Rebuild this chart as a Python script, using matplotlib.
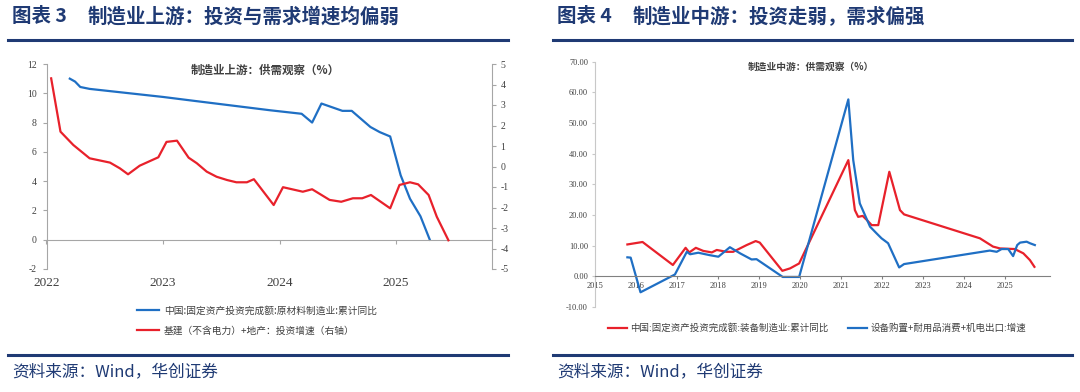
import matplotlib.pyplot as plt
from matplotlib.lines import Line2D
from matplotlib.ticker import FormatStrFormatter

plt.rcParams['font.family'] = ['Noto Sans CJK SC', 'DejaVu Sans']
plt.rcParams['axes.unicode_minus'] = False

# ---- 图表3：制造业上游 ----
# 原材料制造业投资累计同比（左轴）
up_inv_x = [2022.20, 2022.245, 2022.29, 2022.37, 2023.0, 2023.23, 2023.92, 2024.19, 2024.28,
            2024.36, 2024.54, 2024.62, 2024.78, 2024.86, 2024.95, 2025.04, 2025.12, 2025.21, 2025.29]
up_inv_y = [11.0, 10.8, 10.43, 10.3, 9.75, 9.52, 8.84, 8.6, 8.0,
            9.3, 8.8, 8.8, 7.7, 7.35, 7.05, 4.4, 2.8, 1.6, 0.0]
# 基建（不含电力）+地产投资增速（右轴）
up_dem_x = [2022.04, 2022.12, 2022.23, 2022.37, 2022.545, 2022.63, 2022.70, 2022.80, 2022.96,
            2023.03, 2023.12, 2023.22, 2023.29, 2023.375, 2023.46, 2023.55, 2023.63, 2023.72,
            2023.78, 2023.95, 2024.03, 2024.20, 2024.28, 2024.43, 2024.53, 2024.63, 2024.71,
            2024.785, 2024.95, 2025.03, 2025.12, 2025.19, 2025.28, 2025.35, 2025.45]
up_dem_y = [4.30, 1.70, 1.05, 0.40, 0.19, -0.09, -0.38, 0.04, 0.45,
            1.20, 1.26, 0.43, 0.16, -0.25, -0.5, -0.66, -0.77, -0.77,
            -0.62, -1.88, -1.01, -1.23, -1.11, -1.63, -1.72, -1.55, -1.55,
            -1.39, -2.04, -0.90, -0.77, -0.87, -1.39, -2.45, -3.60]
up_years = [2022, 2023, 2024, 2025]

# ---- 图表4：制造业中游 ----
mid_inv_x = [2015.79, 2016.16, 2016.90, 2017.21, 2017.30, 2017.46, 2017.64, 2017.85, 2017.97,
             2018.21, 2018.37, 2018.70, 2018.92, 2019.02, 2019.57, 2019.76, 2019.98, 2021.18,
             2021.34, 2021.42, 2021.53, 2021.63, 2021.75, 2021.91, 2022.18, 2022.44, 2022.54,
             2024.39, 2024.71, 2024.88, 2025.24, 2025.45, 2025.61, 2025.72]
mid_inv_y = [10.4, 11.2, 3.7, 9.3, 7.8, 9.3, 8.3, 7.8, 8.6,
             8.0, 8.0, 10.2, 11.5, 11.0, 1.8, 2.6, 4.2, 37.9,
             21.6, 19.4, 19.7, 18.4, 16.7, 16.7, 34.1, 21.6, 20.2,
             12.4, 9.7, 9.1, 8.9, 7.5, 5.3, 3.1]
mid_dem_x = [2015.79, 2015.87, 2016.11, 2016.95, 2017.24, 2017.32, 2017.52, 2017.80, 2018.01,
             2018.29, 2018.54, 2018.82, 2018.94, 2019.58, 2019.98, 2021.18, 2021.30, 2021.46,
             2021.71, 2021.87, 2021.99, 2022.15, 2022.42, 2022.54, 2024.63, 2024.80, 2024.92,
             2025.08, 2025.20, 2025.30, 2025.37, 2025.53, 2025.61, 2025.73]
mid_dem_y = [6.2, 6.1, -5.2, 0.6, 8.0, 7.2, 7.7, 6.9, 6.4,
             9.5, 7.5, 5.5, 5.6, -0.2, -0.2, 57.7, 37.9, 23.8,
             16.2, 14.0, 12.4, 10.8, 2.9, 4.0, 8.4, 8.0, 8.9,
             8.9, 6.6, 10.2, 11.0, 11.3, 10.8, 10.2]
mid_years = list(range(2015, 2026))

BLUE = '#1F6FC4'
RED = '#E8212B'
NAVY = '#1F3A74'
GRAY = '#A6A6A6'
TXT = '#404040'
W, H = 1080, 392

fig = plt.figure(figsize=(10.8, 3.92), dpi=100)

def fx(px):
    return px / W

def fy(py):
    return 1 - py / H

# 标题与分隔线
for x0, x1, num, title in [(8, 508, "图表 3", "制造业上游：投资与需求增速均偏弱"),
                           (553, 1072, "图表 4", "制造业中游：投资走弱，需求偏强")]:
    fig.text(fx(x0 + 4), fy(17), num, color=NAVY, fontsize=14, fontweight='bold', va='center')
    fig.text(fx(x0 + 80), fy(17), title, color=NAVY, fontsize=14, fontweight='bold', va='center')
    fig.add_artist(Line2D([fx(x0), fx(x1)], [fy(40), fy(40)], color=NAVY, lw=2.2))
    fig.add_artist(Line2D([fx(x0), fx(x1)], [fy(355), fy(355)], color=NAVY, lw=2.2))
    fig.text(fx(x0 + 4), fy(372), "资料来源：Wind，华创证券", color=NAVY, fontsize=12,
             style='italic', va='center')

serif = ['Liberation Serif', 'DejaVu Serif']

# ---- 左图 ----
ax1 = fig.add_axes([fx(46.5), fy(269), fx(445.5), 205 / H])
ax2 = ax1.twinx()
l1, = ax1.plot(up_inv_x, up_inv_y, color=BLUE, lw=1.6)
l2, = ax2.plot(up_dem_x, up_dem_y, color=RED, lw=1.6)
ax1.set_xlim(2022, 2025.824)
ax1.set_ylim(-2, 12)
ax2.set_ylim(-5, 5)
ax1.set_yticks(range(-2, 13, 2))
ax2.set_yticks(range(-5, 6))
ax1.set_xticks(up_years)
for a in (ax1, ax2):
    for s in a.spines.values():
        s.set_visible(False)
ax1.spines['left'].set_visible(True)
ax1.spines['left'].set_color(GRAY)
ax2.spines['right'].set_visible(True)
ax2.spines['right'].set_color(GRAY)
ax1.spines['bottom'].set_visible(True)
ax1.spines['bottom'].set_position(('data', 0))
ax1.spines['bottom'].set_color(GRAY)
ax1.tick_params(axis='x', length=3, color=GRAY, pad=24, labelcolor=TXT, labelsize=9.5)
ax1.tick_params(axis='y', length=3, color=GRAY, labelcolor=TXT, labelsize=7, pad=4)
ax2.tick_params(axis='y', length=3, color=GRAY, labelcolor=TXT, labelsize=7, pad=3)
fig.text(fx(265), fy(70), "制造业上游：供需观察（%）", color=TXT, fontsize=8.3,
         fontweight='bold', ha='center', va='center')
fig.legend([l1, l2], ["中国:固定资产投资完成额:原材料制造业:累计同比",
                      "基建（不含电力）+地产：投资增速（右轴）"],
           loc='upper left', bbox_to_anchor=(fx(128), fy(297)), frameon=False,
           fontsize=7, handlelength=2.3, handletextpad=0.5, labelspacing=1.0,
           labelcolor=TXT)

# ---- 右图 ----
ax3 = fig.add_axes([fx(595), fy(307), fx(455), 245.3 / H])
r1, = ax3.plot(mid_inv_x, mid_inv_y, color=RED, lw=1.6)
r2, = ax3.plot(mid_dem_x, mid_dem_y, color=BLUE, lw=1.6)
ax3.set_xlim(2015, 2026.1)
ax3.set_ylim(-10, 70)
ax3.set_yticks(range(-10, 71, 10))
ax3.yaxis.set_major_formatter(FormatStrFormatter('%.2f'))
ax3.set_xticks(mid_years)
for s in ax3.spines.values():
    s.set_visible(False)
ax3.spines['left'].set_visible(True)
ax3.spines['left'].set_color('#C8C8C8')
ax3.spines['bottom'].set_visible(True)
ax3.spines['bottom'].set_position(('data', 0))
ax3.spines['bottom'].set_color('#808080')
ax3.tick_params(axis='x', length=2, color='#808080', pad=2, labelcolor=TXT, labelsize=6)
ax3.tick_params(axis='y', length=2, color='#C8C8C8', labelcolor=TXT, labelsize=6, pad=3)
fig.text(fx(811), fy(67), "制造业中游：供需观察（%）", color=TXT, fontsize=7,
         fontweight='bold', ha='center', va='center')
fig.legend([r1, r2], ["中国:固定资产投资完成额:装备制造业:累计同比",
                      "设备购置+耐用品消费+机电出口:增速"],
           loc='center', bbox_to_anchor=(fx(817), fy(328)), frameon=False, ncol=2,
           fontsize=6.8, handlelength=2.0, handletextpad=0.4, columnspacing=2.0,
           labelcolor=TXT)

# 刻度数字用衬线字体
fig.canvas.draw()
for a in (ax1, ax2, ax3):
    for lab in a.get_xticklabels() + a.get_yticklabels():
        lab.set_fontfamily(serif)

fig.savefig('out.png', dpi=100)
